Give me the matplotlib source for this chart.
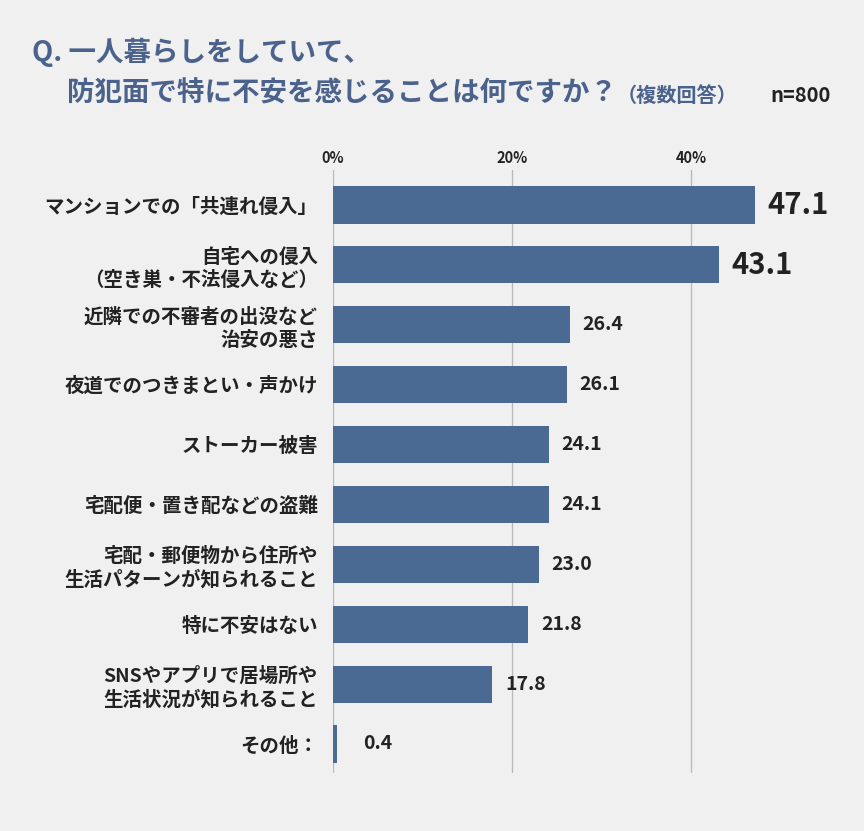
import matplotlib
matplotlib.use('Agg')
import matplotlib.pyplot as plt

plt.rcParams['font.family'] = ['Noto Sans CJK JP', 'DejaVu Sans']

# --- data ---
categories = [
    'マンションでの「共連れ侵入」',
    '自宅への侵入\n（空き巣・不法侵入など）',
    '近隣での不審者の出没など\n治安の悪さ',
    '夜道でのつきまとい・声かけ',
    'ストーカー被害',
    '宅配便・置き配などの盗難',
    '宅配・郵便物から住所や\n生活パターンが知られること',
    '特に不安はない',
    'SNSやアプリで居場所や\n生活状況が知られること',
    'その他：',
]
values = [47.1, 43.1, 26.4, 26.1, 24.1, 24.1, 23.0, 21.8, 17.8, 0.4]
ticks = [0, 20, 40]
tick_labels = ['0%', '20%', '40%']
big_labels = 2  # top two values get the large label

BG = '#f0f0f0'
BAR = '#4a6a94'
TITLE = '#4a628c'
TXT = '#222222'

W, H = 864, 831
fig = plt.figure(figsize=(W / 100, H / 100), dpi=100, facecolor=BG)

# axes placed in pixel terms: x=0 at 333px, 8.96px per %, y from 170 to 773
x0, px_per = 333, 8.96
xmax = 50
ax_w = xmax * px_per
top, bottom = 170, 773
ax = fig.add_axes([x0 / W, 1 - bottom / H, ax_w / W, (bottom - top) / H])
ax.set_facecolor(BG)

n = len(categories)
pos = list(range(n))
ax.barh(pos, values, height=0.62, color=BAR, zorder=3)
ax.set_xlim(0, xmax)
ax.set_ylim(n - 1 + 0.485, -0.585)

for t in ticks:
    ax.axvline(t, color='#b8b8b8', lw=0.9, zorder=1)

ax.set_xticks(ticks)
ax.set_xticklabels(tick_labels, fontsize=10.5, color=TXT, fontweight='bold')
ax.xaxis.tick_top()
ax.tick_params(axis='x', length=0, pad=3)

ax.set_yticks(pos)
ax.set_yticklabels(categories, fontsize=14, color=TXT, fontweight='bold',
                   linespacing=1.25)
ax.tick_params(axis='y', length=0, pad=11)
for sp in ax.spines.values():
    sp.set_visible(False)

for i, v in enumerate(values):
    big = i < big_labels
    ax.text(max(v, 2) + 1.4, i, f'{v:.1f}', va='center', ha='left',
            fontsize=21 if big else 14, fontweight='bold', color=TXT)

# title
fig.text(32 / W, 1 - 52 / H, 'Q. 一人暮らしをしていて、', fontsize=19.8,
         fontweight='bold', color=TITLE, va='center', ha='left')
fig.text(67 / W, 1 - 94 / H, '防犯面で特に不安を感じることは何ですか？', fontsize=19.8,
         fontweight='bold', color=TITLE, va='center', ha='left')
fig.text(617 / W, 1 - 95 / H, '（複数回答）', fontsize=14.5,
         fontweight='bold', color=TITLE, va='center', ha='left')
fig.text(770 / W, 1 - 95 / H, 'n=800', fontsize=14.5,
         fontweight='bold', color=TXT, va='center', ha='left')

fig.savefig('out.png', dpi=100, facecolor=BG)
